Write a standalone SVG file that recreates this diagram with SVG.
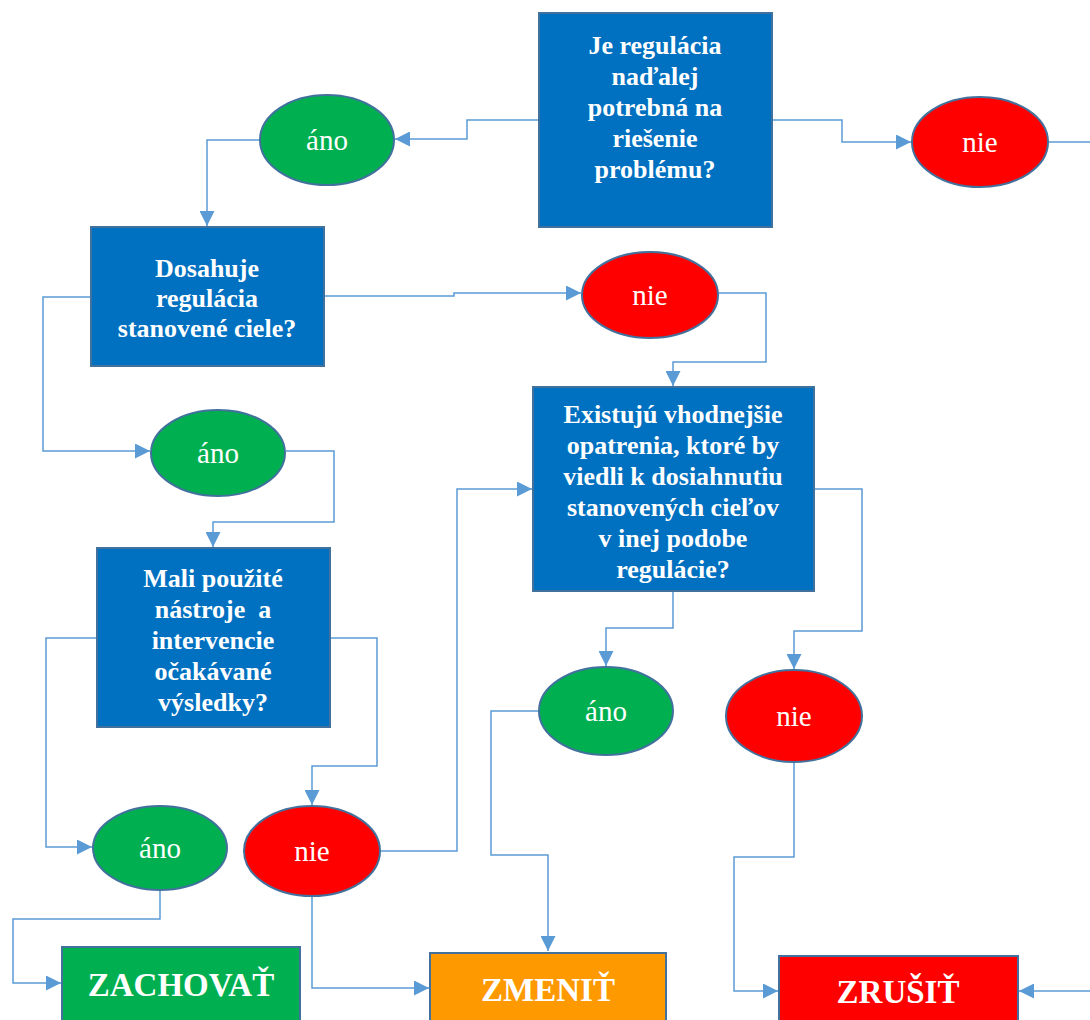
<svg xmlns="http://www.w3.org/2000/svg" width="1090" height="1020" viewBox="0 0 1090 1020">
<style>
.q{fill:#0070C0;stroke:#41719C;stroke-width:2}
.yes{fill:#00B050;stroke:#41719C;stroke-width:2}
.no{fill:#FF0000;stroke:#41719C;stroke-width:2}
.qt{font-family:"Liberation Serif","Times New Roman",serif;font-weight:bold;font-size:26px;fill:#fff;text-anchor:middle;white-space:pre}
.et{font-family:"Liberation Serif","Times New Roman",serif;font-size:29px;fill:#fff;text-anchor:middle}
.bt{font-family:"Liberation Serif","Times New Roman",serif;font-weight:bold;font-size:33px;fill:#fff;text-anchor:middle}
.c{fill:none;stroke:#5B9BD5;stroke-width:1.5}
</style>
<defs>
<marker id="a" markerWidth="15" markerHeight="15" refX="15" refY="7.5" orient="auto" markerUnits="userSpaceOnUse">
<path d="M0,0 L15,7.5 L0,15 Z" fill="#5B9BD5"/>
</marker>
</defs>
<rect width="1090" height="1020" fill="#fff"/>
<g id="connectors">
<polyline class="c" points="539,120 467,120 467,139 395,139" marker-end="url(#a)"/>
<polyline class="c" points="772,120 842,120 842,142 911,142" marker-end="url(#a)"/>
<polyline class="c" points="1048,142 1090,142"/>
<polyline class="c" points="260,140 207,140 207,226" marker-end="url(#a)"/>
<polyline class="c" points="324,296 454,296 454,293 581,293" marker-end="url(#a)"/>
<polyline class="c" points="91,297 43,297 43,451 150,451" marker-end="url(#a)"/>
<polyline class="c" points="718,293 766,293 766,362 673,362 673,386" marker-end="url(#a)"/>
<polyline class="c" points="286,451 334,451 334,522 213,522 213,547" marker-end="url(#a)"/>
<polyline class="c" points="97,638 46,638 46,847 92,847" marker-end="url(#a)"/>
<polyline class="c" points="330,638 377,638 377,766 312,766 312,805" marker-end="url(#a)"/>
<polyline class="c" points="380,851 457,851 457,489 532,489" marker-end="url(#a)"/>
<polyline class="c" points="673,591 673,628 606,628 606,666" marker-end="url(#a)"/>
<polyline class="c" points="814,489 862,489 862,631 794,631 794,669" marker-end="url(#a)"/>
<polyline class="c" points="540,711 491,711 491,855 548,855 548,951" marker-end="url(#a)"/>
<polyline class="c" points="794,762 794,857 734,857 734,991 778,991" marker-end="url(#a)"/>
<polyline class="c" points="160,890 160,919 13,919 13,983 61,983" marker-end="url(#a)"/>
<polyline class="c" points="312,896 312,988 429,988" marker-end="url(#a)"/>
<polyline class="c" points="1090,991 1019,991" marker-end="url(#a)"/>
</g>
<g id="q1">
<rect class="q" x="539" y="13" width="233" height="214"/>
<text class="qt" x="655" y="54">Je regulácia</text>
<text class="qt" x="655" y="85">naďalej</text>
<text class="qt" x="655" y="116">potrebná na</text>
<text class="qt" x="655" y="147">riešenie</text>
<text class="qt" x="655" y="178">problému?</text>
</g>
<g id="no1">
<ellipse class="no" cx="980" cy="142" rx="68" ry="45"/>
<text class="et" x="980" y="152">nie</text>
</g>
<g id="yes1">
<ellipse class="yes" cx="327" cy="140" rx="67" ry="45"/>
<text class="et" x="327" y="150">áno</text>
</g>
<g id="q2">
<rect class="q" x="91" y="227" width="233" height="139"/>
<text class="qt" x="207" y="277">Dosahuje</text>
<text class="qt" x="207" y="307">regulácia</text>
<text class="qt" x="207" y="337">stanovené ciele?</text>
</g>
<g id="no2">
<ellipse class="no" cx="650" cy="295" rx="68" ry="43"/>
<text class="et" x="650" y="305">nie</text>
</g>
<g id="yes2">
<ellipse class="yes" cx="218" cy="453" rx="67" ry="43"/>
<text class="et" x="218" y="463">áno</text>
</g>
<g id="q3">
<rect class="q" x="533" y="387" width="281" height="204"/>
<text class="qt" x="673" y="423">Existujú vhodnejšie</text>
<text class="qt" x="673" y="454">opatrenia, ktoré by</text>
<text class="qt" x="673" y="485">viedli k dosiahnutiu</text>
<text class="qt" x="673" y="516">stanovených cieľov</text>
<text class="qt" x="673" y="547">v inej podobe</text>
<text class="qt" x="673" y="578">regulácie?</text>
</g>
<g id="q4">
<rect class="q" x="97" y="548" width="233" height="179"/>
<text class="qt" x="213" y="587">Mali použité</text>
<text class="qt" x="213" y="618">nástroje  a</text>
<text class="qt" x="213" y="649">intervencie</text>
<text class="qt" x="213" y="680">očakávané</text>
<text class="qt" x="213" y="711">výsledky?</text>
</g>
<g id="yes3">
<ellipse class="yes" cx="606" cy="711" rx="67" ry="44"/>
<text class="et" x="606" y="721">áno</text>
</g>
<g id="no3">
<ellipse class="no" cx="794" cy="716" rx="68" ry="46"/>
<text class="et" x="794" y="726">nie</text>
</g>
<g id="yes4">
<ellipse class="yes" cx="160" cy="848" rx="67" ry="42"/>
<text class="et" x="160" y="858">áno</text>
</g>
<g id="no4">
<ellipse class="no" cx="312" cy="851" rx="68" ry="45"/>
<text class="et" x="312" y="861">nie</text>
</g>
<g id="keep">
<rect x="62" y="947" width="238" height="90" fill="#00B050" stroke="#41719C" stroke-width="2"/>
<text class="bt" x="181" y="996">ZACHOVAŤ</text>
</g>
<g id="change">
<rect x="430" y="953" width="236" height="90" fill="#FF9900" stroke="#41719C" stroke-width="2"/>
<text class="bt" x="548" y="1001">ZMENIŤ</text>
</g>
<g id="cancel">
<rect x="779" y="956" width="239" height="90" fill="#FF0000" stroke="#41719C" stroke-width="2"/>
<text class="bt" x="898" y="1003">ZRUŠIŤ</text>
</g>
</svg>
